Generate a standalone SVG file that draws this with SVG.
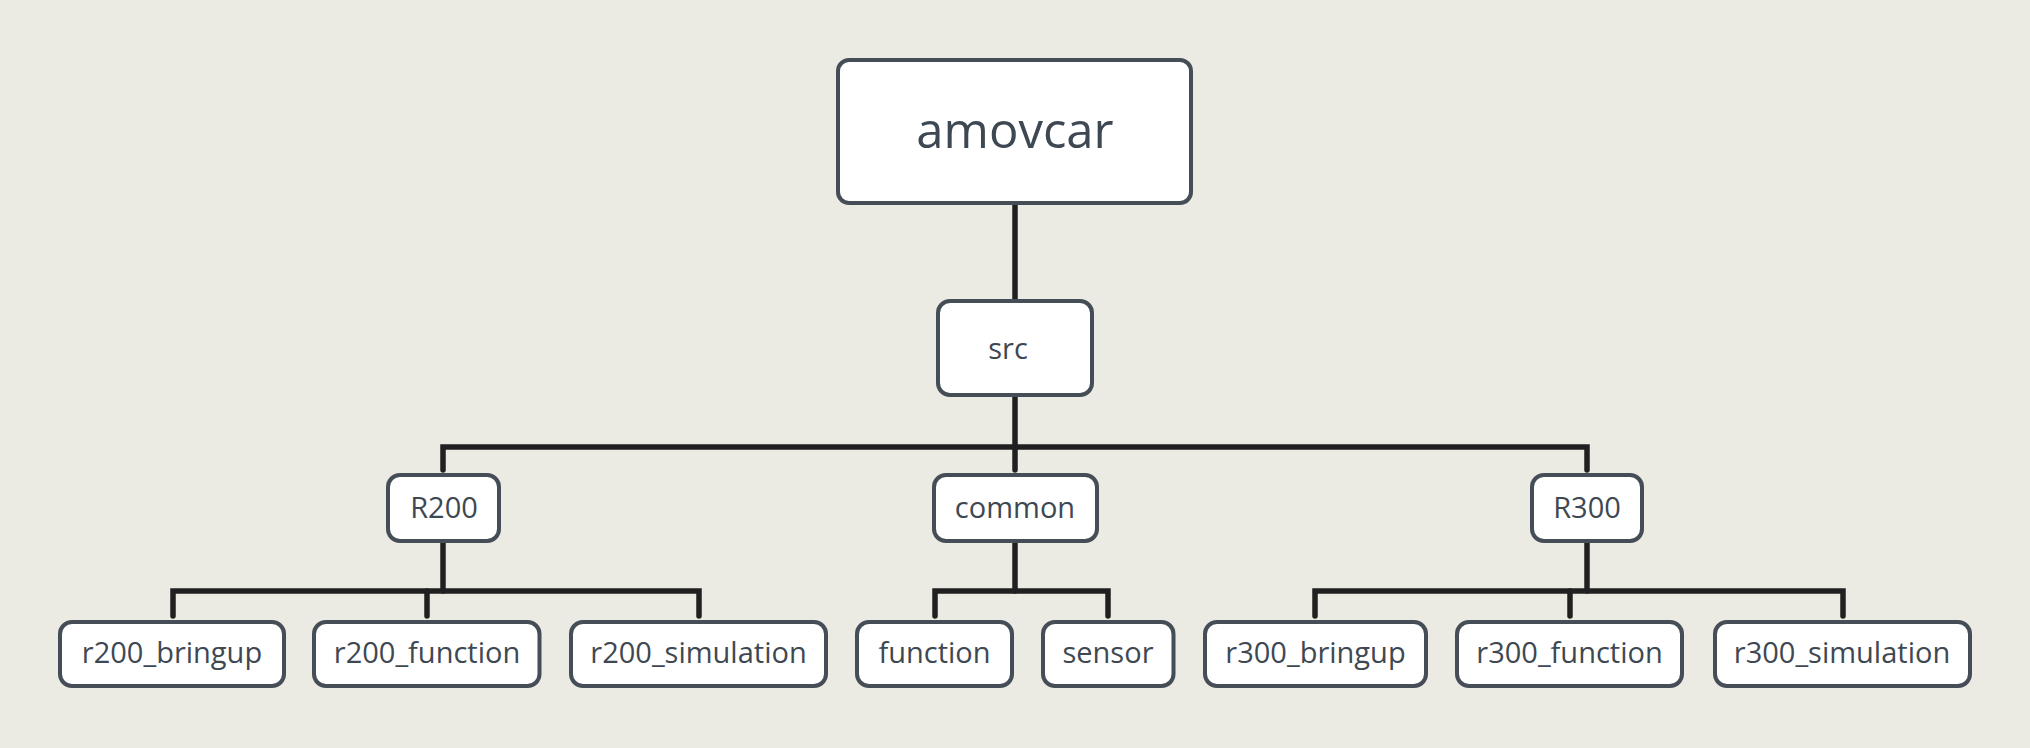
<svg xmlns="http://www.w3.org/2000/svg" width="2030" height="748" viewBox="0 0 2030 748">
<style>
.bg{fill:#ebebe3}
.box{fill:#ffffff;stroke:#454d56;stroke-width:4}
.t{font-family:"Open Sans","Noto Sans","Liberation Sans",sans-serif;fill:#3e4852;text-anchor:middle}
.s{font-size:29px}
.l{font-size:49px}
.c{fill:none;stroke:#202020;stroke-width:5.5;stroke-linecap:round;stroke-linejoin:miter}
</style>
<rect class="bg" x="0" y="0" width="2030" height="748"/>
<g id="connectors">
<path class="c" d="M1015 203 V301"/>
<path class="c" d="M1015 395 V470"/>
<path class="c" d="M443 470 V447 H1587 V470"/>
<path class="c" d="M443 541 V591"/>
<path class="c" d="M173 616 V591 H699 V616"/>
<path class="c" d="M427 591 V616"/>
<path class="c" d="M1015 541 V591"/>
<path class="c" d="M935 616 V591 H1108 V616"/>
<path class="c" d="M1587 541 V591"/>
<path class="c" d="M1315 616 V591 H1843 V616"/>
<path class="c" d="M1570 591 V616"/>
</g>
<g id="amovcar"><rect class="box" x="838" y="60" width="353" height="143" rx="11"/><text class="t l" x="1015" y="148">amovcar</text></g>
<g id="src"><rect class="box" x="938" y="301" width="154" height="94" rx="12"/><text class="t s" x="1008" y="359">src</text></g>
<g id="R200"><rect class="box" x="388" y="475" width="111" height="66" rx="12"/><text class="t s" x="444" y="518">R200</text></g>
<g id="common"><rect class="box" x="934" y="475" width="163" height="66" rx="12"/><text class="t s" x="1015" y="518">common</text></g>
<g id="R300"><rect class="box" x="1532" y="475" width="110" height="66" rx="12"/><text class="t s" x="1587" y="518">R300</text></g>
<g id="r200_bringup"><rect class="box" x="60" y="622" width="224" height="64" rx="12"/><text class="t s" x="172" y="663">r200_bringup</text></g>
<g id="r200_function"><rect class="box" x="314" y="622" width="225.5" height="64" rx="12"/><text class="t s" x="427" y="663">r200_function</text></g>
<g id="r200_simulation"><rect class="box" x="571" y="622" width="255" height="64" rx="12"/><text class="t s" x="698.5" y="663">r200_simulation</text></g>
<g id="function"><rect class="box" x="857" y="622" width="155" height="64" rx="12"/><text class="t s" x="934.5" y="663">function</text></g>
<g id="sensor"><rect class="box" x="1043" y="622" width="130.5" height="64" rx="12"/><text class="t s" x="1108" y="663">sensor</text></g>
<g id="r300_bringup"><rect class="box" x="1205" y="622" width="221" height="64" rx="12"/><text class="t s" x="1315.5" y="663">r300_bringup</text></g>
<g id="r300_function"><rect class="box" x="1457" y="622" width="225" height="64" rx="12"/><text class="t s" x="1569.5" y="663">r300_function</text></g>
<g id="r300_simulation"><rect class="box" x="1715" y="622" width="255" height="64" rx="12"/><text class="t s" x="1842" y="663">r300_simulation</text></g>
</svg>
